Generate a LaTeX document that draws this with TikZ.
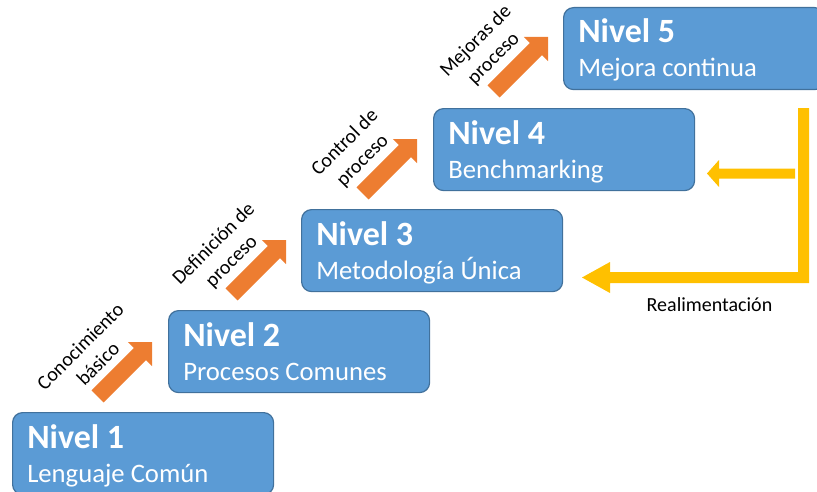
\documentclass[tikz,border=0pt]{standalone}
\usepackage{fontspec}
\setmainfont{Carlito}
\definecolor{boxfill}{HTML}{5B9BD5}
\definecolor{boxline}{HTML}{41719C}
\definecolor{orangearr}{HTML}{ED7D31}
\definecolor{yellowarr}{HTML}{FFC000}
\tikzset{
  levelbox/.style={draw=boxline, fill=boxfill, line width=0.9pt, rounded corners=7.5pt,
    minimum width=195.75pt, minimum height=61.5pt, inner sep=0pt, anchor=north west},
  leveltitle/.style={text=white, font=\bfseries\fontsize{25.5}{29}\selectfont, inner sep=0pt, anchor=base west},
  levelsub/.style={text=white, font=\fontsize{20}{24}\selectfont, inner sep=0pt, anchor=base west},
  steplabel/.style={font=\fontsize{15}{18.75}\selectfont, align=center, rotate=45, inner sep=0pt},
  upbar/.style={fill=orangearr},
}
\begin{document}
\begin{tikzpicture}[x=0.75pt,y=-0.75pt]
\useasboundingbox (0,0) rectangle (817,492);
\clip (0,0) rectangle (817,492);

% boxes
\node[levelbox] (b1) at (12,412) {};
\node[levelbox] (b2) at (168,310) {};
\node[levelbox] (b3) at (301,209) {};
\node[levelbox] (b4) at (433,108) {};
\node[levelbox] (b5) at (563,7) {};

% texts
\node[leveltitle] (t1) at (27,448) {Nivel 1};
\node[levelsub]   (s1) at (27,482) {Lenguaje Común};
\node[leveltitle] (t2) at (183,346) {Nivel 2};
\node[levelsub]   (s2) at (183,380) {Procesos Comunes};
\node[leveltitle] (t3) at (316,245) {Nivel 3};
\node[levelsub]   (s3) at (316,279) {Metodología Única};
\node[leveltitle] (t4) at (448,144) {Nivel 4};
\node[levelsub]   (s4) at (448,178) {Benchmarking};
\node[leveltitle] (t5) at (578,43) {Nivel 5};
\node[levelsub]   (s5) at (578,77) {Mejora continua};

% orange step arrows
\foreach \tx/\ty in {152/342, 286/240, 417/139, 548/37}{
  \begin{scope}[shift={(\tx,\ty)}, rotate=45]
    \fill[upbar] (0,0) -- (-17,-17) -- (-17,-8.5) -- (-77,-8.5) -- (-77,8.5) -- (-17,8.5) -- (-17,17) -- cycle;
  \end{scope}
}

% labels
\node[steplabel] (l1) at (89,355) {Conocimiento\\básico};
\node[steplabel] (l2) at (223,253) {Definición de\\proceso};
\node[steplabel] (l3) at (354,152) {Control de\\proceso};
\node[steplabel] (l4) at (485,50) {Mejoras de\\proceso};

% yellow feedback arrows
\fill[yellowarr] (798,108) -- (809,108) -- (809,283) -- (610,283) -- (610,293) -- (582,277.5)
  -- (610,262) -- (610,272) -- (798,272) -- cycle;
\fill[yellowarr] (795,168.5) -- (795,178.5) -- (719,178.5) -- (719,187) -- (707,173.5)
  -- (719,160) -- (719,168.5) -- cycle;

\node[font=\fontsize{15}{18}\selectfont, anchor=base, inner sep=0pt] (fb) at (709.5,311) {Realimentación};
\end{tikzpicture}
\end{document}
